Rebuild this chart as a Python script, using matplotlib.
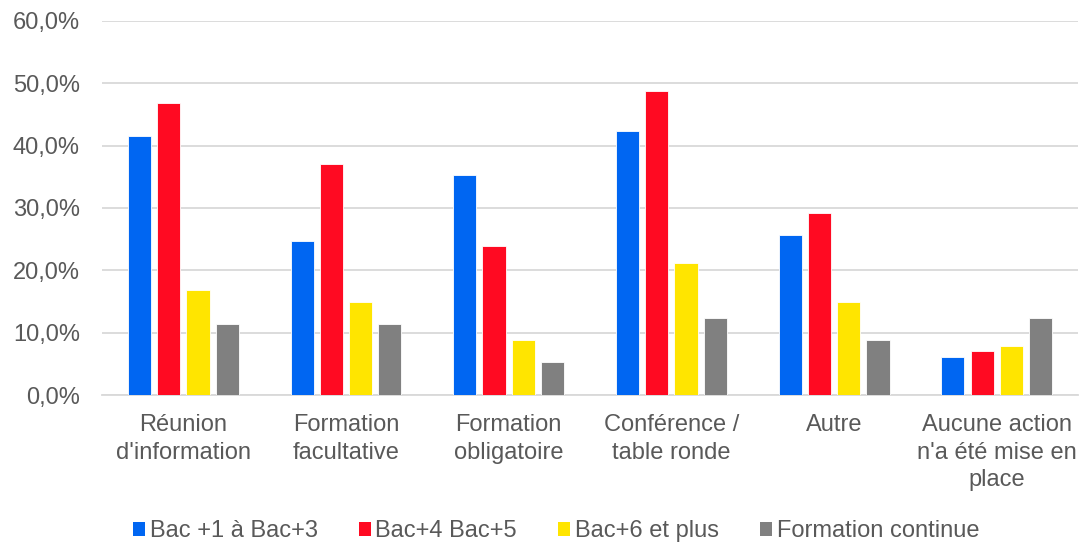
import numpy as np
import matplotlib
matplotlib.use("Agg")
import matplotlib.pyplot as plt
from matplotlib.patches import Patch
from matplotlib.ticker import FuncFormatter

plt.rcParams['font.family'] = ['Liberation Sans', 'DejaVu Sans']

categories = [
    "Réunion\nd'information",
    "Formation\nfacultative",
    "Formation\nobligatoire",
    "Conférence /\ntable ronde",
    "Autre",
    "Aucune action\nn'a été mise en\nplace",
]
series_names = ["Bac +1 à Bac+3", "Bac+4 Bac+5", "Bac+6 et plus", "Formation continue"]
bac1_3 = [41.6, 24.7, 35.3, 42.4, 25.6, 6.1]
bac4_5 = [46.9, 37.1, 23.9, 48.7, 29.2, 7.0]
bac6_plus = [16.8, 15.0, 8.8, 21.2, 15.0, 7.9]
formation_continue = [11.4, 11.4, 5.3, 12.4, 8.9, 12.4]
colors = ["#0066F2", "#FF0A22", "#FFE500", "#808080"]

series = [bac1_3, bac4_5, bac6_plus, formation_continue]

fig = plt.figure(figsize=(10.84, 5.42), dpi=100)
ax = fig.add_axes([0.0941, 0.2712, 0.9004, 0.6901])

x = np.arange(len(categories))
width = 0.142
pitch = 0.18
for i, (vals, col) in enumerate(zip(series, colors)):
    ax.bar(x + (i - 1.5) * pitch, vals, width=width, color=col,
           edgecolor="white", linewidth=0.6, zorder=3)

ax.set_xlim(-0.5, len(categories) - 0.5)
ax.set_ylim(0, 60)
ax.set_yticks(np.arange(0, 61, 10))
ax.yaxis.set_major_formatter(FuncFormatter(lambda v, p: f"{v:.1f}%".replace(".", ",")))
ax.grid(axis="y", color="#D9D9D9", linewidth=1.3, zorder=0)
ax.set_axisbelow(True)
for s in ["top", "right", "left"]:
    ax.spines[s].set_visible(False)
ax.spines["bottom"].set_color("#D9D9D9")
ax.spines["bottom"].set_linewidth(1.3)

ax.set_xticks(x)
ax.set_xticklabels(categories, linespacing=1.3)
ax.tick_params(axis="x", length=0, pad=14, labelsize=17, labelcolor="#595959")
ax.tick_params(axis="y", length=0, pad=16, labelsize=17, labelcolor="#595959")

handles = [Patch(facecolor=c, edgecolor="none") for c in colors]
fig.legend(handles, series_names, loc="center", bbox_to_anchor=(0.513, 0.02),
           ncol=4, frameon=False, fontsize=17, labelcolor="#595959",
           handlelength=0.5, handleheight=0.5, handletextpad=0.2,
           columnspacing=1.75)

fig.savefig("out.png", dpi=100)
